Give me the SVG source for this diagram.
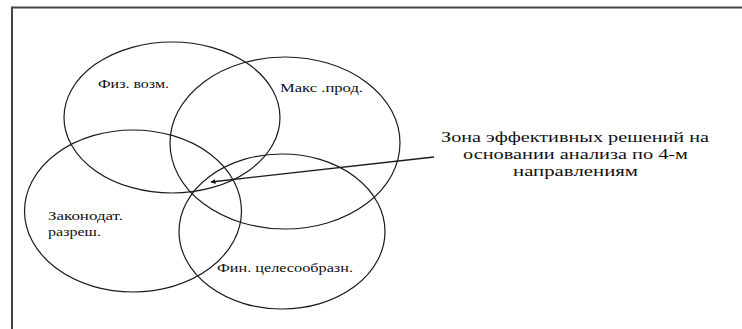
<svg xmlns="http://www.w3.org/2000/svg" width="742" height="329" viewBox="0 0 742 329">
<defs>
<style>
.e{fill:none;stroke:#1a1a1a;stroke-width:1.2}
.t{font-family:'Liberation Serif','Times New Roman',serif;font-size:12px;fill:#111}
.b{font-family:'Liberation Serif','Times New Roman',serif;font-size:15px;fill:#111}
.c{fill:none;stroke:#1a1a1a;stroke-width:1.3}
</style>
<marker id="ah" viewBox="0 0 10 10" refX="9" refY="5" markerWidth="5" markerHeight="5" orient="auto" markerUnits="userSpaceOnUse">
<path d="M0,0 L10,5 L0,10 z" fill="#111"/>
</marker>
</defs>
<rect x="0" y="0" width="742" height="329" fill="#fff"/>
<path d="M12,329 L12,7.5 L742,7.5" fill="none" stroke="#444" stroke-width="2"/>
<g id="fiz">
<ellipse class="e" cx="172" cy="117.5" rx="108" ry="75.5"/>
<text class="t" x="98" y="88" textLength="71" lengthAdjust="spacingAndGlyphs">Физ. возм.</text>
</g>
<g id="maks">
<ellipse class="e" cx="285" cy="143" rx="115" ry="86"/>
<text class="t" x="280" y="92" textLength="83" lengthAdjust="spacingAndGlyphs">Макс .прод.</text>
</g>
<g id="zakon">
<ellipse class="e" cx="133" cy="211" rx="108.5" ry="81"/>
<text class="t" x="48" y="220" textLength="75" lengthAdjust="spacingAndGlyphs">Законодат.</text>
<text class="t" x="48" y="236" textLength="53" lengthAdjust="spacingAndGlyphs">разреш.</text>
</g>
<g id="fin">
<ellipse class="e" cx="282" cy="231.5" rx="103" ry="77.5"/>
<text class="t" x="217" y="272" textLength="136" lengthAdjust="spacingAndGlyphs">Фин. целесообразн.</text>
</g>
<g id="zona">
<text class="b" x="441" y="142" textLength="268" lengthAdjust="spacingAndGlyphs">Зона эффективных решений на</text>
<text class="b" x="463" y="159" textLength="225" lengthAdjust="spacingAndGlyphs">основании анализа по 4-м</text>
<text class="b" x="513" y="176" textLength="125" lengthAdjust="spacingAndGlyphs">направлениям</text>
</g>
<g id="connectors">
<line class="c" x1="434" y1="157" x2="211" y2="182" marker-end="url(#ah)"/>
</g>
</svg>
